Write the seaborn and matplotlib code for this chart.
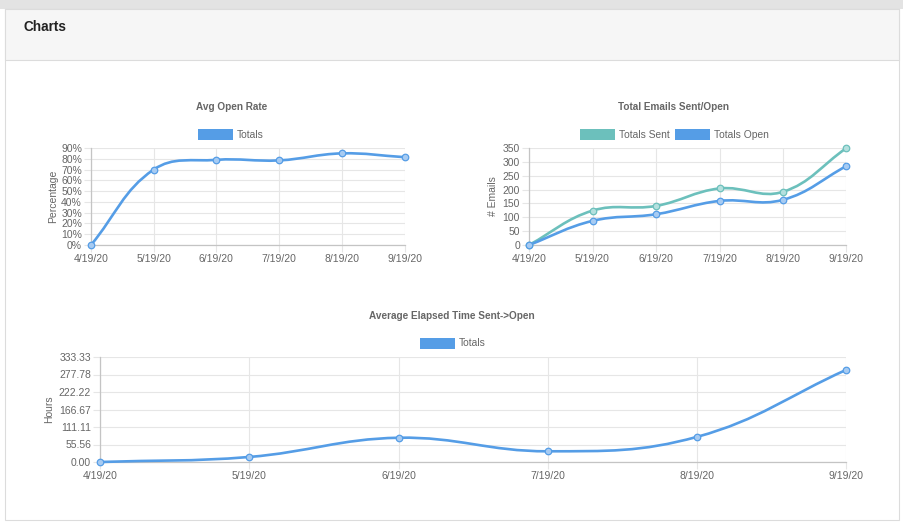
import numpy as np
import matplotlib
matplotlib.use("Agg")
import matplotlib.pyplot as plt
from matplotlib.path import Path
from matplotlib.patches import PathPatch, Rectangle
import seaborn as sns
import pandas as pd

# data
dates = ["4/19/20", "5/19/20", "6/19/20", "7/19/20", "8/19/20", "9/19/20"]
open_rate = [0, 70, 79, 78.5, 85, 81.5]
totals_sent = [0, 124, 141, 204, 192, 350]
totals_open = [0, 87, 111, 159, 163, 285]
elapsed_hours = [0, 16, 77, 34, 80, 293]
hours_max = 333.3333

BLUE = "#559de6"
BLUE_PT = "#a7cbf2"
TEAL = "#6cc0bc"
TEAL_PT = "#b4e0de"
GRID = "#e6e6e6"
TXT = "#666666"

W, H = 904, 524

sns.set_theme(style="white")
plt.rcParams["font.family"] = ["Liberation Sans", "DejaVu Sans"]


def fx(x):
    return x / W


def fy(y):
    return 1 - y / H


def add_axes(fig, left, top, right, bottom):
    return fig.add_axes([fx(left), fy(bottom), (right - left) / W, (bottom - top) / H])


def smooth_path(ax, xs, ys, tension=0.4):
    # chart.js style bezier through the points, computed in pixel space
    pts = ax.transData.transform(np.column_stack([xs, ys]))
    n = len(pts)
    bb = ax.bbox
    c_prev, c_next = [], []
    for i in range(n):
        prev = pts[max(i - 1, 0)]
        cur = pts[i]
        nxt = pts[min(i + 1, n - 1)]
        d01 = np.hypot(*(cur - prev))
        d12 = np.hypot(*(nxt - cur))
        tot = d01 + d12
        s01 = d01 / tot if tot else 0
        s12 = d12 / tot if tot else 0
        cp = cur - tension * s01 * (nxt - prev)
        cn = cur + tension * s12 * (nxt - prev)
        cp[1] = np.clip(cp[1], bb.y0, bb.y1)
        cn[1] = np.clip(cn[1], bb.y0, bb.y1)
        c_prev.append(cp)
        c_next.append(cn)
    verts = [pts[0]]
    codes = [Path.MOVETO]
    for i in range(1, n):
        verts += [c_next[i - 1], c_prev[i], pts[i]]
        codes += [Path.CURVE4] * 3
    verts = ax.transData.inverted().transform(np.array(verts))
    return Path(verts, codes)


def style_axes(ax, yticks, ylabels):
    ax.set_xlim(0, len(dates) - 1)
    ax.set_ylim(yticks[0], yticks[-1])
    ax.set_xticks(range(len(dates)))
    ax.set_xticklabels(dates)
    ax.set_yticks(yticks)
    ax.set_yticklabels(ylabels)
    ax.grid(True, color=GRID, lw=0.8)
    ax.set_axisbelow(True)
    for s in ["top", "right"]:
        ax.spines[s].set_visible(False)
    for s in ["left", "bottom"]:
        ax.spines[s].set_color("#c4c4c4")
        ax.spines[s].set_linewidth(0.9)
    ax.tick_params(axis="both", length=5, width=0.8, color=GRID,
                   labelsize=7.5, labelcolor=TXT, pad=1.5, left=True, bottom=True)
    ax.set_facecolor("white")


def draw_series(ax, values, color, pt_color):
    df = pd.DataFrame({"x": range(len(dates)), "y": values})
    ax.add_patch(PathPatch(smooth_path(ax, df["x"], df["y"]), facecolor="none",
                           edgecolor=color, lw=1.9, zorder=3, clip_on=False,
                           capstyle="round", joinstyle="round"))
    sns.scatterplot(data=df, x="x", y="y", ax=ax, s=22, color=pt_color,
                    edgecolor=color, linewidth=0.9, zorder=4, clip_on=False,
                    legend=False)
    ax.set_xlabel("")


def legend_item(fig, x, y, color, label):
    fig.add_artist(Rectangle((fx(x), fy(y + 11)), 35 / W, 11 / H,
                             transform=fig.transFigure, facecolor=color,
                             edgecolor=color, lw=0))
    fig.text(fx(x + 39), fy(y + 5.5), label, fontsize=7.4, color=TXT,
             ha="left", va="center")


fig = plt.figure(figsize=(W / 100, H / 100), dpi=100, facecolor="white")

# panel frame (behind the axes)
fig.add_artist(Rectangle((0, fy(9)), 1, 9 / H, transform=fig.transFigure,
                         facecolor="#e3e3e3", lw=0, zorder=-5))
fig.add_artist(Rectangle((fx(5), fy(520)), 894 / W, 511 / H, transform=fig.transFigure,
                         facecolor="white", edgecolor="#dcdcdc", lw=0.8, zorder=-4))
fig.add_artist(Rectangle((fx(5), fy(60)), 894 / W, 51 / H, transform=fig.transFigure,
                         facecolor="#f6f6f6", edgecolor="#dcdcdc", lw=0.8, zorder=-3))
fig.text(fx(23), fy(27), "Charts", fontsize=9.8, fontweight="bold",
         color="#222222", ha="left", va="center")

# Avg Open Rate
ax1 = add_axes(fig, 91, 148, 404.5, 245)
style_axes(ax1, list(range(0, 91, 10)), [f"{v}%" for v in range(0, 91, 10)])
draw_series(ax1, open_rate, BLUE, BLUE_PT)
ax1.set_ylabel("Percentage", fontsize=7.5, color=TXT, labelpad=2)
fig.text(fx(232), fy(107), "Avg Open Rate", fontsize=7.2, fontweight="bold",
         color=TXT, ha="center", va="center")
legend_item(fig, 198, 129, BLUE, "Totals")

# Total Emails Sent/Open
ax2 = add_axes(fig, 529, 148, 846.5, 245)
style_axes(ax2, list(range(0, 351, 50)), [str(v) for v in range(0, 351, 50)])
draw_series(ax2, totals_sent, TEAL, TEAL_PT)
draw_series(ax2, totals_open, BLUE, BLUE_PT)
ax2.set_ylabel("# Emails", fontsize=7.5, color=TXT, labelpad=3)
fig.text(fx(674), fy(107), "Total Emails Sent/Open", fontsize=7.2, fontweight="bold",
         color=TXT, ha="center", va="center")
legend_item(fig, 580, 129, TEAL, "Totals Sent")
legend_item(fig, 675, 129, BLUE, "Totals Open")

# Average Elapsed Time Sent->Open
hours_ticks = [hours_max * i / 6 for i in range(7)]
ax3 = add_axes(fig, 100, 357, 846.5, 462)
style_axes(ax3, hours_ticks, [f"{v:.2f}" for v in hours_ticks])
draw_series(ax3, elapsed_hours, BLUE, BLUE_PT)
ax3.set_ylabel("Hours", fontsize=7.5, color=TXT, labelpad=3)
fig.text(fx(452), fy(316), "Average Elapsed Time Sent->Open", fontsize=7.2,
         fontweight="bold", color=TXT, ha="center", va="center")
legend_item(fig, 420, 338, BLUE, "Totals")

fig.savefig("out.png", dpi=100, facecolor=fig.get_facecolor())
